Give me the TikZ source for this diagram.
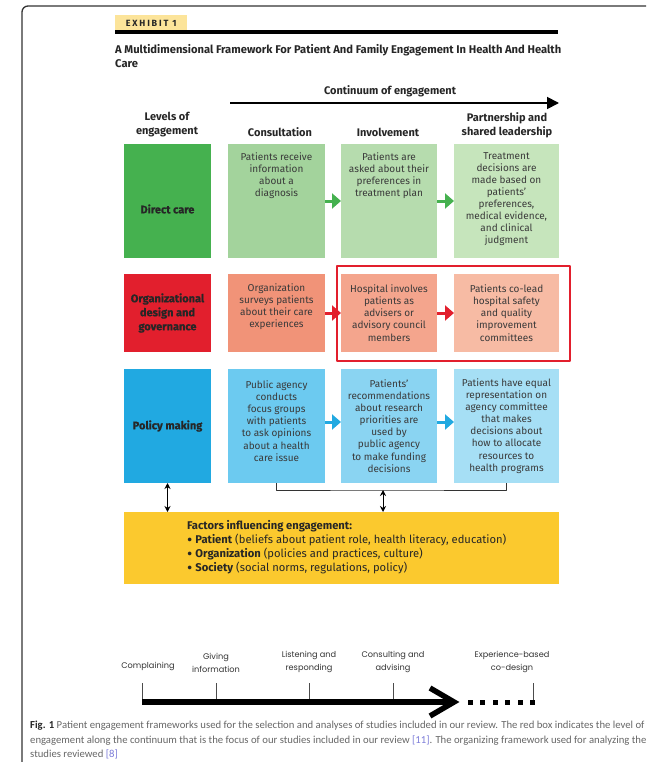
\documentclass[tikz,border=0pt]{standalone}
\usepackage{fontspec}
\setmainfont{Fira Sans}
\newfontfamily\capfont{Carlito}
\newfontfamily\tlfont{Poppins}
\usetikzlibrary{arrows.meta,positioning}
\definecolor{txtgray}{HTML}{3A3A3A}
\definecolor{exyel}{HTML}{FCE49A}
\definecolor{facyel}{HTML}{FBC92E}
\definecolor{grA}{HTML}{45B14F}\definecolor{grB}{HTML}{A3D39C}\definecolor{grC}{HTML}{B6DCAE}\definecolor{grD}{HTML}{C6E5BC}
\definecolor{rdA}{HTML}{E21F2D}\definecolor{rdB}{HTML}{F19378}\definecolor{rdC}{HTML}{F4A58D}\definecolor{rdD}{HTML}{F7BBA4}
\definecolor{blA}{HTML}{21A9E1}\definecolor{blB}{HTML}{6CCAF0}\definecolor{blC}{HTML}{8AD4F2}\definecolor{blD}{HTML}{A6DFF5}
\definecolor{capgray}{HTML}{666666}
\definecolor{citeblue}{HTML}{7B7BD8}
\newcommand\celltext{\fontsize{10}{12.1}\selectfont}
\newcommand\headtext{\fontsize{11}{14}\selectfont\bfseries}
\newcommand\bigdot{\raisebox{-0.35ex}{\scalebox{1.45}{•}}}
\begin{document}
\begin{tikzpicture}[x=1pt, y=-1pt, line join=round, >=stealth, text=txtgray,
	cell/.style={inner sep=0, outer sep=0, minimum width=#1},
	ctxt/.style={inner sep=0, align=center, font=\celltext},
	ltxt/.style={inner sep=0, align=center, text=black!85,
		font=\fontsize{11}{14}\selectfont\bfseries\addfontfeature{FakeBold=0.6}},
	hd/.style={inner sep=0, align=center, font=\headtext, text=black!85},
	flow/.style={line width=3, -{Triangle[length=9,width=15]}, draw=#1},
	dbl/.style={line width=1, {Stealth[length=6,width=6]}-{Stealth[length=6,width=6]}},
	tl/.style={inner sep=0, align=center, font=\tlfont\fontsize{8.2}{13}\selectfont, text=black!80}]
	\useasboundingbox (0,0) rectangle (646,762);
	\draw[line width=1.3, rounded corners=6, draw=black!80] (22,762) -- (22,6) -- (646,6);
	% exhibit heading
	\node[fill=exyel, anchor=south west, minimum width=72, minimum height=17, inner sep=0, text=black!85,
		font=\fontsize{9}{9}\selectfont\bfseries\addfontfeature{LetterSpace=20}] (exh) at (115,32) {EXHIBIT 1};
	\draw[line width=3.5] (exh.south west) -- ++(443,0);
	\node[anchor=north west, align=left, inner sep=0, text=black!85,
		font=\fontsize{11.2}{14}\selectfont\bfseries] (title) at (115,44)
		{A Multidimensional Framework For Patient And Family Engagement In Health And Health\\Care};
	\node[hd] (cont) at (390,91) {Continuum of engagement};
	\coordinate (cs) at (230,103);
	\coordinate (ce) at (559,103);
	\draw[line width=1.8, -{Triangle[length=12,width=12]}] (cs) -- (ce);
	% column heads
	\node[hd] (h-lvl) at (167,125) {Levels of\\engagement};
	\node[hd] (h-con) at (280,132) {Consultation};
	\node[hd] (h-inv) at (388,132) {Involvement};
	\node[hd] (h-par) at (507,125) {Partnership and\\shared leadership};
	% direct care
	\node[cell=87, minimum height=114, fill=grA] (dc-lvl) at (167.5,201) {};
	\node[cell=97, minimum height=114, fill=grB] (dc-con) at (276.5,201) {};
	\node[cell=96, minimum height=114, fill=grC] (dc-inv) at (389,201) {};
	\node[cell=105, minimum height=114, fill=grD] (dc-par) at (506.5,201) {};
	\node[ltxt] (t-dc) at ([yshift=-8]dc-lvl.center) {Direct care};
	\node[ctxt, anchor=north] (t-dc-con) at ([yshift=-8]dc-con.north) {Patients receive\\information\\about a\\diagnosis};
	\node[ctxt, anchor=north] (t-dc-inv) at ([yshift=-8]dc-inv.north) {Patients are\\asked about their\\preferences in\\treatment plan};
	\node[ctxt, anchor=north] (t-dc-par) at ([yshift=-8]dc-par.north) {Treatment\\decisions are\\made based on\\patients’\\preferences,\\medical evidence,\\and clinical\\judgment};
	\draw[flow=grA] (dc-con) -- (dc-inv);
	\draw[flow=grA] (dc-inv) -- (dc-par);
	% organizational design
	\node[cell=87, minimum height=78, fill=rdA] (og-lvl) at (167.5,313) {};
	\node[cell=97, minimum height=78, fill=rdB] (og-con) at (276.5,313) {};
	\node[cell=96, minimum height=78, fill=rdC] (og-inv) at (389,313) {};
	\node[cell=105, minimum height=78, fill=rdD] (og-par) at (506.5,313) {};
	\node[ltxt] (t-og) at (og-lvl) {Organizational\\design and\\governance};
	\node[ctxt] (t-og-con) at ([yshift=6]og-con.center) {Organization\\surveys patients\\about their care\\experiences};
	\node[ctxt] (t-og-inv) at (og-inv) {Hospital involves\\patients as\\advisers or\\advisory council\\members};
	\node[ctxt] (t-og-par) at (og-par) {Patients co-lead\\hospital safety\\and quality\\improvement\\committees};
	\draw[flow=rdA] (og-con) -- (og-inv);
	\draw[flow=rdA] (og-inv) -- (og-par);
	\draw[line width=1.3, draw=rdA] ([xshift=-4, yshift=8]og-inv.north west) rectangle ([xshift=11, yshift=-9]og-par.south east);
	% policy making
	\node[cell=87, minimum height=114, fill=blA] (pm-lvl) at (167.5,426) {};
	\node[cell=97, minimum height=114, fill=blB] (pm-con) at (276.5,426) {};
	\node[cell=96, minimum height=114, fill=blC] (pm-inv) at (389,426) {};
	\node[cell=105, minimum height=114, fill=blD] (pm-par) at (506.5,426) {};
	\node[ltxt] (t-pm) at (pm-lvl) {Policy making};
	\node[ctxt] (t-pm-con) at ([yshift=5]pm-con.center) {Public agency\\conducts\\focus groups\\with patients\\to ask opinions\\about a health\\care issue};
	\node[ctxt] (t-pm-inv) at (pm-inv) {Patients’\\recommendations\\about research\\priorities are\\used by\\public agency\\to make funding\\decisions};
	\node[ctxt] (t-pm-par) at (pm-par) {Patients have equal\\representation on\\agency committee\\that makes\\decisions about\\how to allocate\\resources to\\health programs};
	\draw[flow=blA] ([yshift=4]pm-con.east) -- ([yshift=4]pm-inv.west);
	\draw[flow=blA] ([yshift=4]pm-inv.east) -- ([yshift=4]pm-par.west);
	% factors
	\node[cell=435, minimum height=72, fill=facyel] (fac) at (341.5,548) {};
	\node[anchor=north west, align=left, inner sep=0, text=black!85,
		font=\fontsize{11.2}{14}\selectfont] (t-fac) at (187,520)
		{\textbf{Factors influencing engagement:}\\
		\bigdot\ \textbf{Patient} (beliefs about patient role, health literacy, education)\\
		\bigdot\ \textbf{Organization} (policies and practices, culture)\\
		\bigdot\ \textbf{Society} (social norms, regulations, policy)};
	\coordinate (brk) at (383,490);
	\draw[line width=1, draw=black!80] (pm-con.south) |- (brk) -| (pm-par.south);
	\draw[dbl] (brk) -- (brk |- fac.north);
	\draw[dbl] (pm-lvl.south) -- (fac.north -| pm-lvl.south);
	% timeline
	\foreach \x/\n in {142/t1, 216/t2, 309/t3, 393/t4, 533/t5}
		\coordinate (\n) at (\x,702);
	\coordinate (tip) at (454,702);
	\foreach \n in {t1,t2,t3,t4,t5}
		\draw[line width=0.6, draw=black!70] (\n) -- ++(0,-19);
	\draw[line width=6.5] (t1) -- (tip);
	\draw[line width=5.5, line join=miter] ([xshift=-24, yshift=14]tip) -- (tip) -- ([xshift=-24, yshift=-14]tip);
	\foreach \i in {0,...,5}
		\fill ({470+\i*12.5-2.5},699.5) rectangle ++(5,5);
	\node[tl, anchor=south] (l1) at (148,671) {Complaining};
	\node[tl, anchor=south] (l2) at (216,673) {Giving\\information};
	\node[tl, anchor=south] (l3) at (309,673) {Listening and\\responding};
	\node[tl, anchor=south] (l4) at (393,673) {Consulting and\\advising};
	\node[tl, anchor=south] (l5) at (512,673) {Experience-based\\co-design};
	% caption
	\node[anchor=north west, align=left, inner sep=0, text=capgray,
		font=\capfont\fontsize{10.7}{14.5}\selectfont] (cap) at (30,721)
		{\textbf{\color{black!85}Fig. 1} Patient engagement frameworks used for the selection and analyses of studies included in our review. The red box indicates the level of\\
		engagement along the continuum that is the focus of our studies included in our review {\color{citeblue}[11]}. The organizing framework used for analyzing the\\
		studies reviewed {\color{citeblue}[8]}};
\end{tikzpicture}
\end{document}
